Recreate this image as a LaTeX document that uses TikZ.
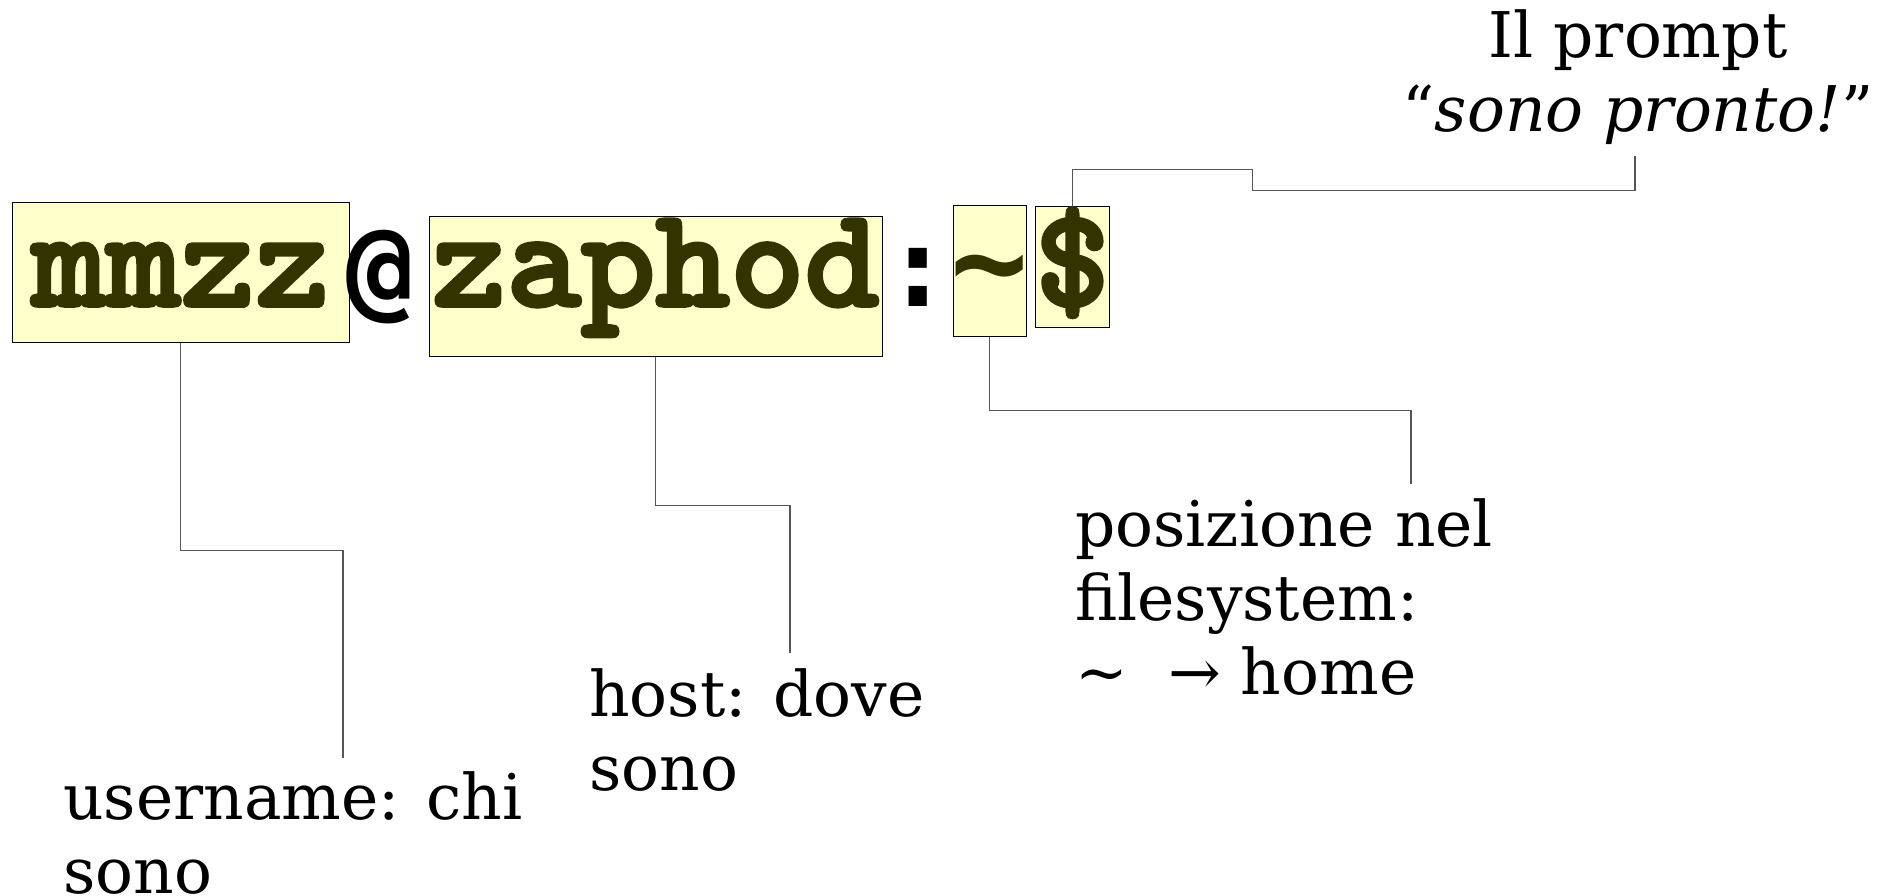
\documentclass[tikz,border=0pt]{standalone}
\usepackage{fontspec}
\usepackage{xcolor}
\setmainfont{DejaVu Serif}
\newfontfamily\sepfont{DejaVu Sans Mono}
\newfontfamily\promptfont[FakeBold=2.5]{lmmonolt10-bold.otf}

\definecolor{promptfill}{HTML}{FFFFCC}
\definecolor{prompttext}{HTML}{333300}
\definecolor{linkgray}{HTML}{555555}

\tikzset{
  part/.style={draw=black, line width=1pt, fill=promptfill, text=prompttext,
    inner sep=0pt, font=\promptfont\fontsize{142}{142}\selectfont},
  sep/.style={inner sep=0pt, font=\sepfont\bfseries\fontsize{112}{112}\selectfont},
  note/.style={inner sep=0pt, align=left, font=\fontsize{63}{74}\selectfont},
  link/.style={draw=linkgray, line width=1.2pt},
}

\begin{document}
\begin{tikzpicture}[x=1pt, y=-1pt]
    \useasboundingbox (0,0) rectangle (1880,896);
    % the prompt: user@host:dir$
    \node[part, minimum width=337pt, text height=103pt, text depth=36pt, anchor=base] (user) at (180.5,306) {mmzz};
    \node[sep, anchor=base] (at) at (380,306) {@};
    \node[part, minimum width=453pt, text height=89pt, text depth=50pt, anchor=base] (host) at (655.5,306) {zaphod};
    \node[sep, anchor=base] (colon) at (918,306) {:};
    \node[part, minimum width=73pt, text height=100pt, text depth=30pt, anchor=base,
      font=\sepfont\bfseries\fontsize{130}{130}\selectfont] (dir) at (989.5,306) {\makebox[73pt]{\char`\~}};
    \node[part, minimum width=73pt, text height=99pt, text depth=21pt, anchor=base] (dollar) at (1072.5,306) {\$};
    % explanations (base = last line)
    \node[note, anchor=base west] (userlbl) at (63,893) {username: chi\\sono};
    \node[note, anchor=base west] (hostlbl) at (589,790) {host: dove\\sono};
    \node[note, anchor=base west] (dirlbl) at (1075,694) {posizione nel\\filesystem:\\\char`\~\ \ → home};
    \node[note, align=center, anchor=base] (promptlbl) at (1638,132) {Il prompt\\“\textit{sono pronto!}”};
    \coordinate (userend) at (343,758);
    \coordinate (hostend) at (790,653);
    \coordinate (dirend) at (1411,484);
    \coordinate (promptend) at (1635,156);
    % connectors
    \draw[link] (user.south) -- ++(0,208) -| (userend);
    \draw[link] (host.south) -- ++(0,149) -| (hostend);
    \draw[link] (dir.south) -- ++(0,74) -| (dirend);
    \draw[link] (dollar.north) -- ++(0,-37) -| ++(180,21) -| (promptend);
\end{tikzpicture}
\end{document}
